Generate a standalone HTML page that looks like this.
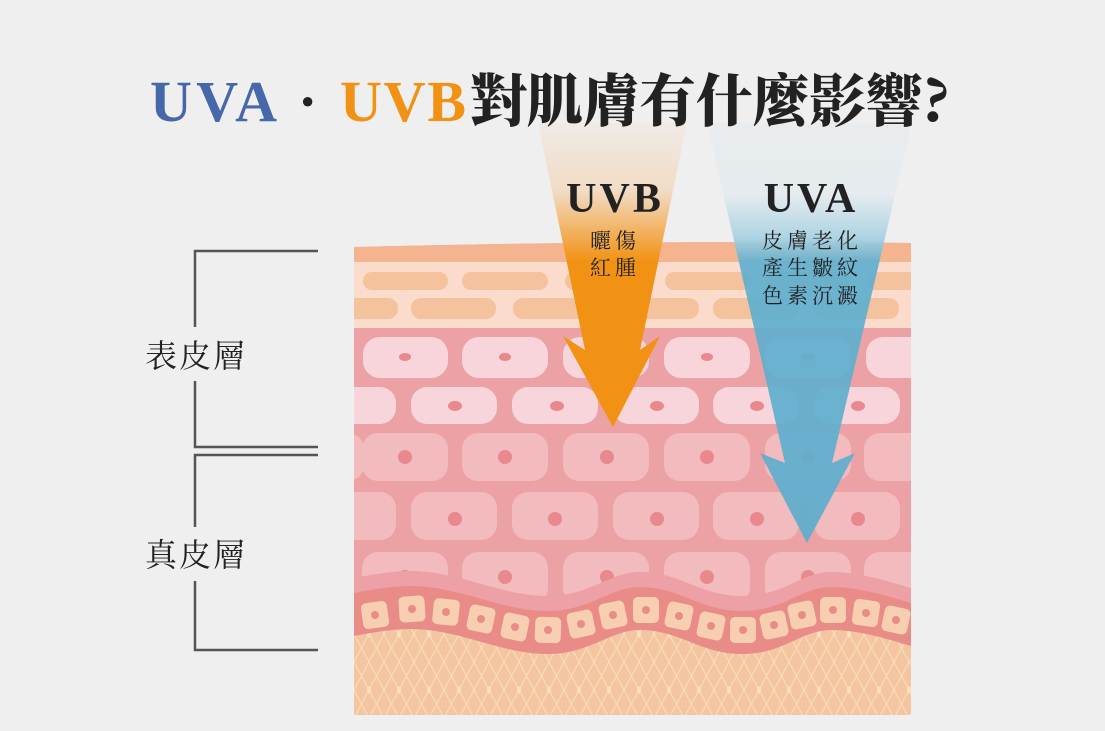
<!DOCTYPE html>
<html><head><meta charset="utf-8"><style>
html,body{margin:0;padding:0;background:#efefef;}
svg{display:block;}
</style></head><body>
<svg width="1105" height="731" viewBox="0 0 1105 731" xmlns="http://www.w3.org/2000/svg">
<defs>
  <clipPath id="skin"><path d="M354,247 Q630,240 911,243 L911,715 L354,715 Z"/></clipPath>
  <path id="wave" d="M354,614 C375,610 395,607 410,607 C460,607 500,632 548,632 C590,632 610,608 640,608 C680,608 700,632 742,632 C785,632 800,608 832,608 C860,608 890,618 911,624 L911,730 L354,730 Z"/>
  <pattern id="dia" width="30" height="56" patternUnits="userSpaceOnUse" x="354" y="640">
    <rect width="30" height="56" fill="#f4c5a1"/>
    <path d="M0,0 L15,28 L0,56 M30,0 L15,28 L30,56 M15,0 L0,28 L15,56 M15,0 L30,28 L15,56" stroke="#fadcb9" stroke-width="1.2" fill="none"/>
    <ellipse cx="15" cy="28" rx="2" ry="3.5" fill="#fbe0be"/>
  </pattern>
  <linearGradient id="gB" x1="0" y1="123" x2="0" y2="430" gradientUnits="userSpaceOnUse">
    <stop offset="0" stop-color="#f0ebe6"/>
    <stop offset="0.22" stop-color="#f1dcc6"/>
    <stop offset="0.38" stop-color="#f2a94a"/>
    <stop offset="0.45" stop-color="#f29214"/>
    <stop offset="1" stop-color="#f29214"/>
  </linearGradient>
  <linearGradient id="gA" x1="0" y1="123" x2="0" y2="545" gradientUnits="userSpaceOnUse">
    <stop offset="0" stop-color="#e9ecee"/>
    <stop offset="0.17" stop-color="#e4ebee"/>
    <stop offset="0.27" stop-color="#a9d2e2"/>
    <stop offset="0.33" stop-color="#62b0d0"/>
    <stop offset="1" stop-color="#5eaece"/>
  </linearGradient>
</defs>

<g clip-path="url(#skin)">
  <rect x="354" y="240" width="557" height="480" fill="#eca2a4"/>
  <rect x="354" y="240" width="557" height="22" fill="#f3b48f"/>
  <rect x="354" y="262" width="557" height="66" fill="#fbdccc"/>
  <g fill="#f4c29c">
    <rect x="363" y="272" width="85" height="18" rx="9"/>
    <rect x="462" y="272" width="86" height="18" rx="9"/>
    <rect x="565" y="272" width="86" height="18" rx="9"/>
    <rect x="665" y="272" width="86" height="18" rx="9"/>
    <rect x="765" y="272" width="86" height="18" rx="9"/>
    <rect x="866" y="272" width="60" height="18" rx="9"/>
    <rect x="340" y="298" width="58" height="21" rx="10"/>
    <rect x="411" y="298" width="85" height="21" rx="10"/>
    <rect x="513" y="298" width="86" height="21" rx="10"/>
    <rect x="613" y="298" width="86" height="21" rx="10"/>
    <rect x="713" y="298" width="86" height="21" rx="10"/>
    <rect x="813" y="298" width="86" height="21" rx="10"/>
  </g>
  <g fill="#f7d5db">
    <rect x="363" y="337" width="85" height="41" rx="17"/>
    <rect x="462" y="337" width="86" height="41" rx="17"/>
    <rect x="563" y="337" width="86" height="41" rx="17"/>
    <rect x="664" y="337" width="86" height="41" rx="17"/>
    <rect x="765" y="337" width="86" height="41" rx="17"/>
    <rect x="866" y="337" width="80" height="41" rx="17"/>
    <rect x="320" y="387" width="76" height="37" rx="16"/>
    <rect x="411" y="387" width="86" height="37" rx="16"/>
    <rect x="512" y="387" width="86" height="37" rx="16"/>
    <rect x="613" y="387" width="86" height="37" rx="16"/>
    <rect x="713" y="387" width="86" height="37" rx="16"/>
    <rect x="814" y="387" width="86" height="37" rx="16"/>
  </g>
  <g fill="#f2bbbd">
    <rect x="320" y="433" width="44" height="48" rx="16"/>
    <rect x="362" y="433" width="86" height="48" rx="16"/>
    <rect x="462" y="433" width="86" height="48" rx="16"/>
    <rect x="563" y="433" width="86" height="48" rx="16"/>
    <rect x="664" y="433" width="86" height="48" rx="16"/>
    <rect x="765" y="433" width="86" height="48" rx="16"/>
    <rect x="864" y="433" width="80" height="48" rx="16"/>
    <rect x="320" y="492" width="76" height="48" rx="16"/>
    <rect x="411" y="492" width="86" height="48" rx="16"/>
    <rect x="512" y="492" width="86" height="48" rx="16"/>
    <rect x="613" y="492" width="86" height="48" rx="16"/>
    <rect x="713" y="492" width="86" height="48" rx="16"/>
    <rect x="814" y="492" width="86" height="48" rx="16"/>
    <rect x="362" y="552" width="86" height="52" rx="16"/>
    <rect x="462" y="552" width="86" height="52" rx="16"/>
    <rect x="563" y="552" width="86" height="52" rx="16"/>
    <rect x="664" y="552" width="86" height="52" rx="16"/>
    <rect x="765" y="552" width="86" height="52" rx="16"/>
    <rect x="864" y="552" width="80" height="52" rx="16"/>
  </g>
  <g fill="#e9898d">
    <ellipse cx="405" cy="357" rx="6" ry="4"/><ellipse cx="505" cy="357" rx="6" ry="4"/><ellipse cx="607" cy="357" rx="6" ry="4"/><ellipse cx="707" cy="357" rx="6" ry="4"/><ellipse cx="808" cy="357" rx="6" ry="4"/>
    <ellipse cx="455" cy="406" rx="7" ry="5"/><ellipse cx="557" cy="406" rx="7" ry="5"/><ellipse cx="657" cy="406" rx="7" ry="5"/><ellipse cx="757" cy="406" rx="7" ry="5"/><ellipse cx="858" cy="406" rx="7" ry="5"/>
    <circle cx="405" cy="457" r="7"/><circle cx="505" cy="457" r="7"/><circle cx="607" cy="457" r="7"/><circle cx="707" cy="457" r="7"/><circle cx="808" cy="457" r="7"/>
    <circle cx="455" cy="519" r="7"/><circle cx="555" cy="519" r="7"/><circle cx="657" cy="519" r="7"/><circle cx="757" cy="519" r="7"/><circle cx="858" cy="519" r="7"/>
    <circle cx="405" cy="577" r="7"/><circle cx="505" cy="577" r="7"/><circle cx="607" cy="577" r="7"/><circle cx="707" cy="577" r="7"/><circle cx="808" cy="577" r="7"/>
  </g>
  <use href="#wave" transform="translate(0,-36)" fill="#eda0a5"/>
  <use href="#wave" transform="translate(0,-21)" fill="#e98c88"/>
  <use href="#wave" transform="translate(0,22)" fill="url(#dia)"/>
  <g fill="#f8ceb1">
    <rect x="-13" y="-13" width="26" height="26" rx="5" transform="translate(375,615) rotate(-8)"/>
    <rect x="-13" y="-13" width="26" height="26" rx="5" transform="translate(412,609) rotate(-4)"/>
    <rect x="-13" y="-13" width="26" height="26" rx="5" transform="translate(446,612) rotate(6)"/>
    <rect x="-13" y="-13" width="26" height="26" rx="5" transform="translate(481,619) rotate(12)"/>
    <rect x="-13" y="-13" width="26" height="26" rx="5" transform="translate(515,627) rotate(12)"/>
    <rect x="-13" y="-13" width="26" height="26" rx="5" transform="translate(548,630) rotate(2)"/>
    <rect x="-13" y="-13" width="26" height="26" rx="5" transform="translate(581,624) rotate(-12)"/>
    <rect x="-13" y="-13" width="26" height="26" rx="5" transform="translate(613,615) rotate(-12)"/>
    <rect x="-13" y="-13" width="26" height="26" rx="5" transform="translate(646,610) rotate(0)"/>
    <rect x="-13" y="-13" width="26" height="26" rx="5" transform="translate(679,616) rotate(12)"/>
    <rect x="-13" y="-13" width="26" height="26" rx="5" transform="translate(711,626) rotate(12)"/>
    <rect x="-13" y="-13" width="26" height="26" rx="5" transform="translate(743,630) rotate(0)"/>
    <rect x="-13" y="-13" width="26" height="26" rx="5" transform="translate(774,625) rotate(-12)"/>
    <rect x="-13" y="-13" width="26" height="26" rx="5" transform="translate(802,615) rotate(-12)"/>
    <rect x="-13" y="-13" width="26" height="26" rx="5" transform="translate(833,610) rotate(0)"/>
    <rect x="-13" y="-13" width="26" height="26" rx="5" transform="translate(866,613) rotate(8)"/>
    <rect x="-13" y="-13" width="26" height="26" rx="5" transform="translate(896,620) rotate(12)"/>
  </g>
  <g fill="#e98c88">
    <circle cx="375" cy="615" r="4"/><circle cx="412" cy="609" r="4"/><circle cx="446" cy="612" r="4"/><circle cx="481" cy="619" r="4"/><circle cx="515" cy="627" r="4"/><circle cx="548" cy="630" r="4"/><circle cx="581" cy="624" r="4"/><circle cx="613" cy="615" r="4"/><circle cx="646" cy="610" r="4"/><circle cx="679" cy="616" r="4"/><circle cx="711" cy="626" r="4"/><circle cx="743" cy="630" r="4"/><circle cx="774" cy="625" r="4"/><circle cx="802" cy="615" r="4"/><circle cx="833" cy="610" r="4"/><circle cx="866" cy="613" r="4"/><circle cx="896" cy="620" r="4"/>
  </g>
</g>

<polygon points="538,123 687,123 640,350 660,336 613,427 563,336 585,350" fill="url(#gB)"/>
<polygon points="707,123 912,123 832,463 855,453 807,543 760,453 785,463" fill="url(#gA)" opacity="0.93"/>

<g font-family="'Liberation Serif', serif" font-weight="bold" font-size="58">
  <text x="150" y="121" fill="#4767ab" textLength="127" lengthAdjust="spacing">UVA</text>
  <text x="298" y="121" fill="#222">·</text>
  <text x="340" y="121" fill="#f29214" textLength="126" lengthAdjust="spacing">UVB</text>
</g>
<text x="470" y="121" font-family="'Noto Serif CJK SC','Noto Sans CJK TC',serif" font-weight="900" font-size="57" fill="#222" textLength="480" lengthAdjust="spacingAndGlyphs">對肌膚有什麼影響?</text>

<text x="615" y="212" text-anchor="middle" font-family="'Liberation Serif', serif" font-weight="bold" font-size="42" fill="#222" letter-spacing="3">UVB</text>
<g font-family="'Liberation Serif','Noto Serif CJK SC',serif" font-size="21" fill="#222">
  <text x="590" y="248" textLength="46">曬傷</text>
  <text x="590" y="275" textLength="46">紅腫</text>
  <text x="762" y="248" textLength="96">皮膚老化</text>
  <text x="762" y="275" textLength="96">產生皺紋</text>
  <text x="762" y="303" textLength="96">色素沉澱</text>
</g>
<text x="811" y="212" text-anchor="middle" font-family="'Liberation Serif', serif" font-weight="bold" font-size="42" fill="#222" letter-spacing="3">UVA</text>

<g stroke="#555" stroke-width="2.5" fill="none">
  <path d="M318,251 H195 V327"/>
  <path d="M195,381 V447 H318"/>
  <path d="M318,455 H195 V527"/>
  <path d="M195,581 V650 H318"/>
</g>
<g font-family="'Liberation Serif','Noto Serif CJK SC',serif" font-size="32" fill="#222">
  <text x="145" y="367" textLength="100">表皮層</text>
  <text x="145" y="566" textLength="100">真皮層</text>
</g>
</svg>
</body></html>
